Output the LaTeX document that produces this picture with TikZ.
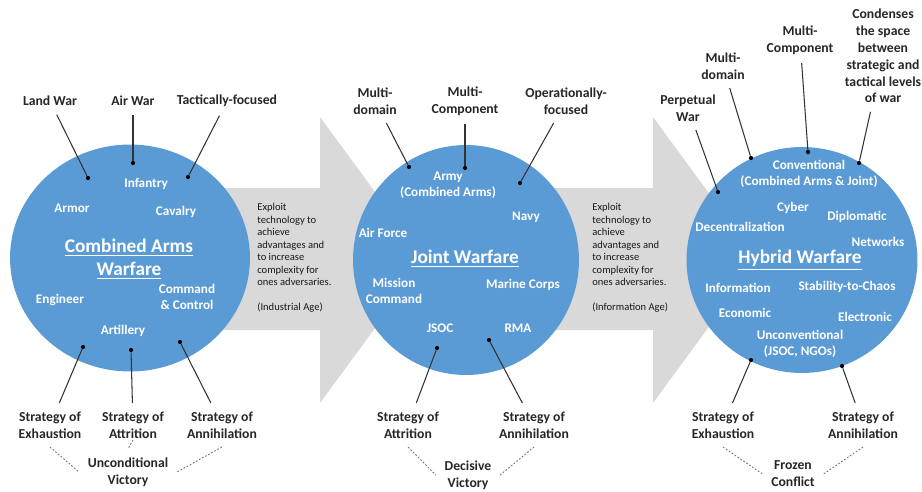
\documentclass[tikz,border=0pt]{standalone}
\usepackage{fontspec}
\setmainfont{Carlito}
\usepackage{tikz}
\usepackage{xcolor}
\usetikzlibrary{shapes.geometric}
\definecolor{hubblue}{HTML}{5B9BD5}
\definecolor{bandgray}{HTML}{D9D9D9}
\definecolor{pointc}{HTML}{333333}
\colorlet{tagtext}{black!85}
\tikzstyle{hub} = [
    ellipse,
    fill=hubblue,
    inner sep=0pt
    ]
\tikzstyle{sublabel} = [
    text=white,
    font=\fontsize{7.5}{9}\selectfont\bfseries,
    align=center,
    inner sep=1pt
    ]
\tikzstyle{hubtitle} = [
    text=white,
    font=\fontsize{11}{13}\selectfont\bfseries,
    align=center
    ]
\tikzstyle{tag} = [
    text=tagtext,
    font=\fontsize{7.8}{9.6}\selectfont\bfseries,
    align=center,
    inner sep=2pt,
    outer sep=3pt
    ]
\tikzstyle{note} = [
    text=black!90,
    font=\fontsize{6}{7.1}\selectfont,
    align=left,
    anchor=north west,
    inner sep=0pt
    ]
\tikzstyle{dotmark} = [
    circle,
    fill=black,
    inner sep=0pt,
    minimum size=2.4pt
    ]
\tikzstyle{pointer} = [
    draw=pointc,
    line width=0.6pt
    ]
\tikzstyle{tie} = [
    draw=black!55,
    dash pattern=on 1pt off 1pt,
    line width=0.5pt
    ]

\begin{document}
\begin{tikzpicture}[x=0.02cm,y=-0.02cm]
\useasboundingbox (0,0) rectangle (922,491);

% grey block arrows between the stages
\fill[bandgray] (195,188) -- (320,188) -- (320,117) -- (425,260) -- (320,403) -- (320,330) -- (195,330) -- cycle;
\fill[bandgray] (530,188) -- (653,188) -- (653,117) -- (758,260) -- (653,403) -- (653,330) -- (530,330) -- cycle;

\node[note] (note1) at (257,203) {Exploit\\technology to\\achieve\\advantages and\\to increase\\complexity for\\ones adversaries.\\[7.1pt](Industrial Age)};
\node[note] (note2) at (592,203) {Exploit\\technology to\\achieve\\advantages and\\to increase\\complexity for\\ones adversaries.\\[7.1pt](Information Age)};

% stage 1
\node[hub, minimum width=4.8cm, minimum height=4.54cm] (ca) at (130,258) {};
\node[hubtitle] (ca-title) at (129,259) {\underline{Combined Arms}\\\underline{Warfare}};
\node[sublabel] (ca-inf) at (146,184) {Infantry};
\node[sublabel] (ca-arm) at (72,208) {Armor};
\node[sublabel] (ca-cav) at (176,212) {Cavalry};
\node[sublabel] (ca-eng) at (60,300) {Engineer};
\node[sublabel] (ca-cc) at (187,297) {Command\\\& Control};
\node[sublabel] (ca-art) at (123,331) {Artillery};

\node[tag] (landwar) at (50,101) {Land War};
\node[tag] (airwar) at (133,101) {Air War};
\node[tag] (tactical) at (227,101) {Tactically-focused};
\node[dotmark] (ca-d1) at (88,178) {};
\node[dotmark] (ca-d2) at (133,163) {};
\node[dotmark] (ca-d3) at (188,177) {};
\draw[pointer] (landwar) -- (ca-d1);
\draw[pointer] (airwar) -- (ca-d2);
\draw[pointer] (tactical) -- (ca-d3);

\node[tag] (ca-exh) at (50,425) {Strategy of\\Exhaustion};
\node[tag] (ca-att) at (133,425) {Strategy of\\Attrition};
\node[tag] (ca-ann) at (222,425) {Strategy of\\Annihilation};
\node[dotmark] (ca-d4) at (83,347) {};
\node[dotmark] (ca-d5) at (131,350) {};
\node[dotmark] (ca-d6) at (180,342) {};
\draw[pointer] (ca-d4) -- (ca-exh);
\draw[pointer] (ca-d5) -- (ca-att);
\draw[pointer] (ca-d6) -- (ca-ann);
\node[tag] (ca-goal) at (128,472) {Unconditional\\Victory};
\draw[tie] (ca-exh.south) -- (ca-goal.west);
\draw[tie] ([yshift=4pt]ca-att.south) -- (ca-goal.north);
\draw[tie] (ca-ann.south) -- (ca-goal.east);

% stage 2
\node[hub, minimum width=4.52cm, minimum height=4.6cm] (jw) at (466,260) {};
\node[hubtitle] (jw-title) at (465,259) {\underline{Joint Warfare}};
\node[sublabel] (jw-army) at (448,185) {Army\\(Combined Arms)};
\node[sublabel] (jw-navy) at (526,217) {Navy};
\node[sublabel] (jw-af) at (383,233) {Air Force};
\node[sublabel] (jw-mc) at (394,291) {Mission\\Command};
\node[sublabel] (jw-mar) at (523,285) {Marine Corps};
\node[sublabel] (jw-jsoc) at (440,328) {JSOC};
\node[sublabel] (jw-rma) at (518,328) {RMA};

\node[tag] (jw-dom) at (375,101) {Multi-\\domain};
\node[tag] (jw-comp) at (465,101) {Multi-\\Component};
\node[tag] (jw-op) at (566,101) {Operationally-\\focused};
\node[dotmark] (jw-d1) at (409,167) {};
\node[dotmark] (jw-d2) at (465,168) {};
\node[dotmark] (jw-d3) at (520,183) {};
\draw[pointer] (jw-dom) -- (jw-d1);
\draw[pointer] (jw-comp) -- (jw-d2);
\draw[pointer] (jw-op) -- (jw-d3);

\node[tag] (jw-att) at (408,425) {Strategy of\\Attrition};
\node[tag] (jw-ann) at (534,425) {Strategy of\\Annihilation};
\node[dotmark] (jw-d4) at (437,348) {};
\node[dotmark] (jw-d5) at (489,340) {};
\draw[pointer] (jw-d4) -- (jw-att);
\draw[pointer] (jw-d5) -- (jw-ann);
\node[tag] (jw-goal) at (468,475) {Decisive\\Victory};
\draw[tie] (jw-att.south) -- (jw-goal.west);
\draw[tie] (jw-ann.south) -- (jw-goal.east);

% stage 3
\node[hub, minimum width=4.62cm, minimum height=4.52cm] (hw) at (802,260) {};
\node[hubtitle] (hw-title) at (800,260) {\underline{Hybrid Warfare}};
\node[sublabel] (hw-conv) at (809,174) {Conventional\\(Combined Arms \& Joint)};
\node[sublabel] (hw-cyb) at (793,208) {Cyber};
\node[sublabel] (hw-dip) at (857,217) {Diplomatic};
\node[sublabel] (hw-dec) at (740,227) {Decentralization};
\node[sublabel] (hw-net) at (878,242) {Networks};
\node[sublabel] (hw-inf) at (738,288) {Information};
\node[sublabel] (hw-stab) at (847,287) {Stability-to-Chaos};
\node[sublabel] (hw-eco) at (745,313) {Economic};
\node[sublabel] (hw-ele) at (865,317) {Electronic};
\node[sublabel] (hw-unc) at (800,344) {Unconventional\\(JSOC, NGOs)};

\node[tag] (hw-perp) at (688,108) {Perpetual\\War};
\node[tag] (hw-dom) at (723,66) {Multi-\\domain};
\node[tag] (hw-comp) at (800,40) {Multi-\\Component};
\node[tag] (hw-cond) at (883,56) {Condenses\\the space\\between\\strategic and\\tactical levels\\of war};
\node[dotmark] (hw-d1) at (718,192) {};
\node[dotmark] (hw-d2) at (751,158) {};
\node[dotmark] (hw-d3) at (808,152) {};
\node[dotmark] (hw-d4) at (859,163) {};
\draw[pointer] (hw-perp) -- (hw-d1);
\draw[pointer] (hw-dom) -- (hw-d2);
\draw[pointer] (hw-comp) -- (hw-d3);
\draw[pointer] (hw-cond) -- (hw-d4);

\node[tag] (hw-exh) at (723,425) {Strategy of\\Exhaustion};
\node[tag] (hw-ann) at (863,425) {Strategy of\\Annihilation};
\node[dotmark] (hw-d5) at (751,360) {};
\node[dotmark] (hw-d6) at (842,366) {};
\draw[pointer] (hw-d5) -- (hw-exh);
\draw[pointer] (hw-d6) -- (hw-ann);
\node[tag] (hw-goal) at (793,474) {Frozen\\Conflict};
\draw[tie] (hw-exh.south) -- (hw-goal.west);
\draw[tie] (hw-ann.south) -- (hw-goal.east);
\end{tikzpicture}
\end{document}
